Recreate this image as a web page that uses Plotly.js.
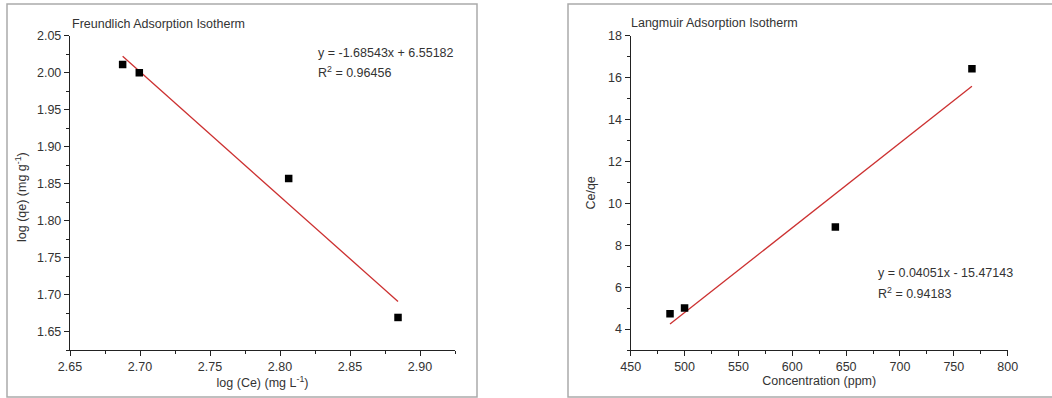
<!DOCTYPE html>
<html>
<head>
<meta charset="utf-8">
<script src="https://cdn.plot.ly/plotly-3.0.1.min.js"></script>
<style>html,body{margin:0;padding:0;background:#fff;}#chart{width:1052px;height:398px;}</style>
</head>
<body>
<div id="chart"></div>
<script>
// Freundlich data
const logCe = [2.6876, 2.6995, 2.8062, 2.8843];
const logQe = [2.011, 2.000, 1.857, 1.669];
const freundlichSlope = -1.68543;
const freundlichIntercept = 6.55182;
const freundlichR2 = "0.96456";

// Langmuir data
const Ce = [486.5, 500, 640, 766.8];
const CeOverQe = [4.73, 5.00, 8.87, 16.42];
const langmuirSlope = 0.04051;
const langmuirIntercept = -15.47143;
const langmuirR2 = "0.94183";

// Tick labels
const xTicks1 = [2.65, 2.70, 2.75, 2.80, 2.85, 2.90];
const yTicks1 = [1.65, 1.70, 1.75, 1.80, 1.85, 1.90, 1.95, 2.00, 2.05];
const xTicks2 = [450, 500, 550, 600, 650, 700, 750, 800];
const yTicks2 = [4, 6, 8, 10, 12, 14, 16, 18];

const fx1 = [Math.min(...logCe), Math.max(...logCe)];
const fy1 = fx1.map(x => freundlichSlope * x + freundlichIntercept);
const fx2 = [Math.min(...Ce), Math.max(...Ce)];
const fy2 = fx2.map(x => langmuirSlope * x + langmuirIntercept);

const W = 1052, H = 398;
const px = v => v / W;
const py = v => 1 - v / H;

const FONT = "Liberation Sans, Arial, sans-serif";
const red = "#cc3030";
const TXT = "#333";

const traces = [
  {x: fx1, y: fy1, mode: "lines", line: {color: red, width: 1.3}, xaxis: "x", yaxis: "y", hoverinfo: "skip"},
  {x: logCe, y: logQe, mode: "markers", marker: {symbol: "square", size: 7.5, color: "#000"}, xaxis: "x", yaxis: "y"},
  {x: fx2, y: fy2, mode: "lines", line: {color: red, width: 1.3}, xaxis: "x2", yaxis: "y2", hoverinfo: "skip"},
  {x: Ce, y: CeOverQe, mode: "markers", marker: {symbol: "square", size: 7.5, color: "#000"}, xaxis: "x2", yaxis: "y2"}
];

const axBase = {
  showgrid: false, zeroline: false, showline: true, linecolor: "#222", linewidth: 1.2,
  ticks: "outside", ticklen: 5, tickwidth: 1, tickcolor: "#222",
  tickfont: {family: FONT, size: 12.5, color: TXT},
  mirror: false, fixedrange: true
};

const layout = {
  width: W, height: H,
  margin: {l: 0, r: 0, t: 0, b: 0},
  paper_bgcolor: "#fff", plot_bgcolor: "#fff",
  showlegend: false,
  font: {family: FONT, color: TXT},
  xaxis: Object.assign({}, axBase, {
    domain: [px(70), px(455)], anchor: "y", range: [2.65, 2.925],
    tickvals: xTicks1, ticktext: xTicks1.map(v => v.toFixed(2)),
    minor: {dtick: 0.025, tick0: 2.65, ticks: "outside", ticklen: 3, tickcolor: "#222"},
    title: {text: "log (Ce) (mg L<sup>-1</sup>)", font: {family: FONT, size: 12.5, color: TXT}, standoff: 2}
  }),
  yaxis: Object.assign({}, axBase, {
    domain: [py(350), py(35.7)], anchor: "x", range: [1.625, 2.05],
    tickvals: yTicks1, ticktext: yTicks1.map(v => v.toFixed(2)),
    minor: {dtick: 0.025, tick0: 1.625, ticks: "outside", ticklen: 3, tickcolor: "#222"}
  }),
  xaxis2: Object.assign({}, axBase, {
    domain: [px(630.7), px(1007.7)], anchor: "y2", range: [450, 800],
    tickvals: xTicks2,
    minor: {dtick: 25, tick0: 450, ticks: "outside", ticklen: 3, tickcolor: "#222"},
    title: {text: "Concentration (ppm)", font: {family: FONT, size: 12.5, color: TXT}, standoff: 2}
  }),
  yaxis2: Object.assign({}, axBase, {
    domain: [py(350), py(35.7)], anchor: "x2", range: [3, 18],
    tickvals: yTicks2,
    minor: {dtick: 1, tick0: 3, ticks: "outside", ticklen: 3, tickcolor: "#222"},
    title: {text: "Ce/qe", font: {family: FONT, size: 12.5, color: TXT}, standoff: 9}
  }),
  shapes: [
    {type: "rect", xref: "paper", yref: "paper", x0: px(7), x1: px(477), y0: py(397), y1: py(4),
     line: {color: "#aaa", width: 1.5}, fillcolor: "rgba(0,0,0,0)", layer: "below"},
    {type: "rect", xref: "paper", yref: "paper", x0: px(568), x1: px(1060), y0: py(397), y1: py(4),
     line: {color: "#aaa", width: 1.5}, fillcolor: "rgba(0,0,0,0)", layer: "below"}
  ],
  annotations: [
    {xref: "paper", yref: "paper", x: px(31), y: py(197), xanchor: "right", yanchor: "middle", textangle: -90,
     text: "log (qe) (mg g<sup>-1</sup>)", showarrow: false, font: {family: FONT, size: 12.5, color: TXT}},
    {xref: "paper", yref: "paper", x: px(70), y: py(24), xanchor: "left", yanchor: "middle",
     text: "Freundlich Adsorption Isotherm", showarrow: false, font: {family: FONT, size: 12.5, color: TXT}},
    {xref: "paper", yref: "paper", x: px(316), y: py(53), xanchor: "left", yanchor: "middle",
     text: "y = " + freundlichSlope.toFixed(5) + "x + " + freundlichIntercept.toFixed(5), showarrow: false,
     font: {family: FONT, size: 12.5, color: TXT}},
    {xref: "paper", yref: "paper", x: px(316), y: py(72), xanchor: "left", yanchor: "middle",
     text: "R<sup>2</sup> = " + freundlichR2, showarrow: false, font: {family: FONT, size: 12.5, color: TXT}},
    {xref: "paper", yref: "paper", x: px(629), y: py(23), xanchor: "left", yanchor: "middle",
     text: "Langmuir Adsorption Isotherm", showarrow: false, font: {family: FONT, size: 12.5, color: TXT}},
    {xref: "paper", yref: "paper", x: px(876), y: py(273), xanchor: "left", yanchor: "middle",
     text: "y = " + langmuirSlope.toFixed(5) + "x - " + Math.abs(langmuirIntercept).toFixed(5), showarrow: false,
     font: {family: FONT, size: 12.5, color: TXT}},
    {xref: "paper", yref: "paper", x: px(876), y: py(292.5), xanchor: "left", yanchor: "middle",
     text: "R<sup>2</sup> = " + langmuirR2, showarrow: false, font: {family: FONT, size: 12.5, color: TXT}}
  ]
};

Plotly.newPlot("chart", traces, layout, {displayModeBar: false, staticPlot: true});
</script>
</body>
</html>
